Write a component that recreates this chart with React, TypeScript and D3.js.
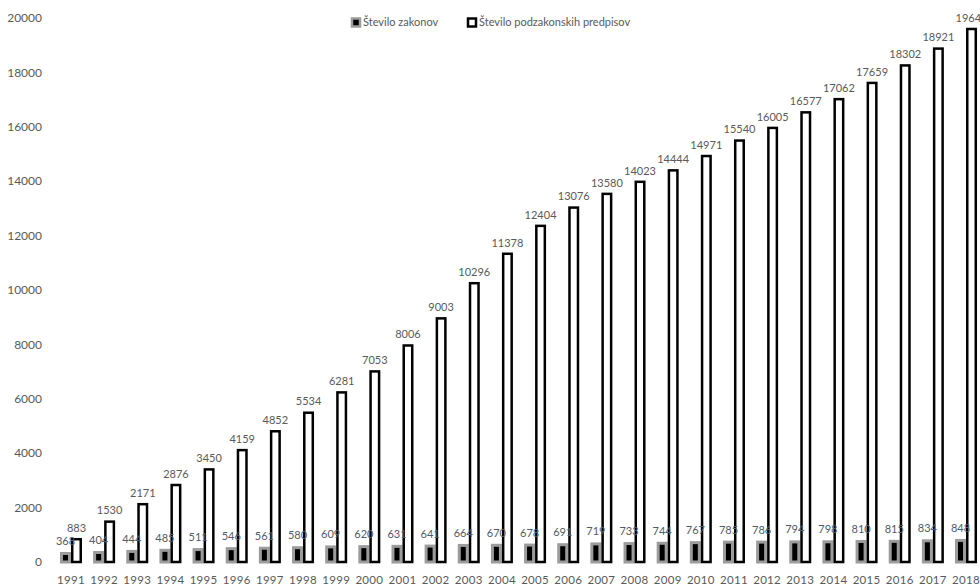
import React from "react";
import * as d3 from "d3";

const years = ["1991","1992","1993","1994","1995","1996","1997","1998","1999","2000","2001","2002","2003","2004","2005","2006","2007","2008","2009","2010","2011","2012","2013","2014","2015","2016","2017","2018"];
const zakoni = [368,404,444,485,511,546,561,580,609,620,631,641,664,670,678,691,719,733,744,767,785,786,794,798,810,815,834,848];
const podzakonski = [883,1530,2171,2876,3450,4159,4852,5534,6281,7053,8006,9003,10296,11378,12404,13076,13580,14023,14444,14971,15540,16005,16577,17062,17659,18302,18921,19642];
const yTicks = [0,2000,4000,6000,8000,10000,12000,14000,16000,18000,20000];
const seriesNames = ["Število zakonov", "Število podzakonskih predpisov"];

const W = 980, H = 586;
const FONT = "Lato, 'Open Sans', sans-serif";
const TXT = "#595959";

export default function App() {
  const x = d3.scaleBand<string>().domain(years).range([54.4, 982.6]).paddingInner(0.336).paddingOuter(0.168);
  const y = d3.scaleLinear().domain([0, 20000]).range([562, 18]);
  const bw = x.bandwidth() / 2;

  return (
    <svg width={W} height={H} style={{ position: "absolute", left: 0, top: 0, background: "#fff" }} fontFamily={FONT}>
      {/* y axis labels */}
      {yTicks.map(t => (
        <text key={t} x={42} y={y(t)} dy="0.35em" textAnchor="end" fontSize={12} fill={TXT}>{t}</text>
      ))}
      {/* x labels */}
      {years.map(yr => (
        <text key={yr} x={(x(yr) as number) + x.bandwidth() / 2} y={580} dy="0.35em" textAnchor="middle" fontSize={11.5} fill={TXT} letterSpacing={0.3}>{yr}</text>
      ))}
      {/* bars */}
      {years.map((yr, i) => {
        const x0 = x(yr) as number;
        const v1 = zakoni[i], v2 = podzakonski[i];
        const sw1 = 3, sw2 = 2.5;
        return (
          <g key={yr}>
            <rect x={x0 + sw1 / 2} y={y(v1) + sw1 / 2} width={bw - sw1} height={Math.max(0, y(0) - y(v1) - sw1 / 2)} fill="#000" stroke="#9c9c9c" strokeWidth={sw1} />
            <rect x={x0 + bw + sw2 / 2} y={y(v2) + sw2 / 2} width={bw - sw2} height={y(0) - y(v2) - sw2 / 2} fill="#fff" stroke="#000" strokeWidth={sw2} />
          </g>
        );
      })}
      {/* labels */}
      {years.map((yr, i) => {
        const x0 = x(yr) as number;
        return (
          <g key={"l" + yr} fontSize={11}>
            <text x={x0 + bw / 2} y={y(zakoni[i]) - 7} textAnchor="middle" fill="#505a6a">{zakoni[i]}</text>
            <text x={x0 + bw * 1.5} y={y(podzakonski[i]) - 6} textAnchor="middle" fill={TXT}>{podzakonski[i]}</text>
          </g>
        );
      })}
      {/* legend */}
      <g>
        <rect x={352} y={18.5} width={8} height={8} fill="#000" stroke="#9c9c9c" strokeWidth={2.5} />
        <text x={363} y={22.5} dy="0.35em" fontSize={11} fill={TXT}>{seriesNames[0]}</text>
        <rect x={468} y={18.5} width={8} height={8} fill="#fff" stroke="#000" strokeWidth={2.5} />
        <text x={479} y={22.5} dy="0.35em" fontSize={11} fill={TXT}>{seriesNames[1]}</text>
      </g>
    </svg>
  );
}
